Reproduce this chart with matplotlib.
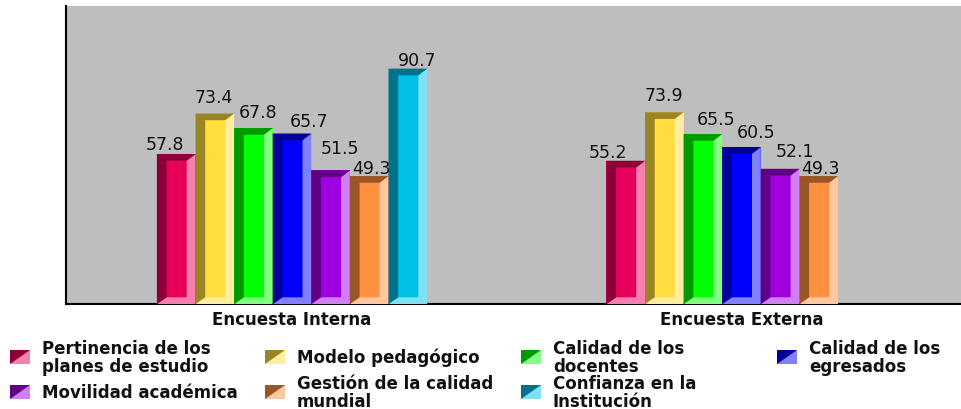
#!/usr/bin/env python3
import matplotlib
matplotlib.use('Agg')
import matplotlib.pyplot as plt
from matplotlib.patches import Polygon, Rectangle

plt.rcParams['font.family'] = ['DejaVu Sans']

# ── data ─────────────────────────────────────────────
groups = ['Encuesta Interna', 'Encuesta Externa']
series = ['Pertinencia de los\nplanes de estudio', 'Modelo pedagógico',
          'Calidad de los\ndocentes', 'Calidad de los\negresados',
          'Movilidad académica', 'Gestión de la calidad\nmundial',
          'Confianza en la\nInstitución']
interna = [57.8, 73.4, 67.8, 65.7, 51.5, 49.3, 90.7]
externa = [55.2, 73.9, 65.5, 60.5, 52.1, 49.3]

# (face, dark bevel, light bevel)
COLS = [('#E6005C', '#8A0037', '#F57FAE'),
        ('#FFDD40', '#998526', '#FFEE9F'),
        ('#00FF00', '#009900', '#80FF80'),
        ('#0000FF', '#000099', '#8080FF'),
        ('#A000E0', '#600086', '#D07FF0'),
        ('#FF9040', '#995626', '#FFC79F'),
        ('#00C0E6', '#00738A', '#80E0F3')]

# label nudges in pixels from the bar's top centre (the source chart scatters them)
OFF_INT = [(-11, 10), (-1, 17), (5, 16), (17, 13), (9, 22), (2, 8), (9, 9)]
OFF_EXT = [(-18, 9), (0, 17), (13, 15), (15, 15), (15, 18), (2, 8)]

BG = '#BEBEBE'
W, H = 961, 410
PX_X = 449.5             # px between group centres
PX_Y = 2.595             # px per value unit
BAR = 38.6 / PX_X        # bar width in x units
FS = 12

fig = plt.figure(figsize=(W / 100, H / 100), dpi=100, facecolor='white')
ax = fig.add_axes([66 / W, (H - 305) / H, (W - 66) / W, 298 / H], facecolor=BG)
ax.set_xlim(-226 / PX_X, 669 / PX_X)
ax.set_ylim(0, 298 / PX_Y)


def bevel_bar(x, v, cols):
    face, dark, light = cols
    bl, br = 9.7 / PX_X, 8.8 / PX_X
    bh = 6.7 / PX_Y
    x0, x1 = x - BAR / 2, x + BAR / 2
    ax.bar(x, v, BAR, color=face, linewidth=0, zorder=2)
    # light right + bottom, dark left + top, mitred at the corners
    ax.add_patch(Polygon([(x0, 0), (x1, 0), (x1, v), (x1 - br, v - bh),
                          (x1 - br, bh), (x0 + bl, bh)],
                         facecolor=light, edgecolor='none', zorder=3))
    ax.add_patch(Polygon([(x0, 0), (x0, v), (x1, v), (x1 - br, v - bh),
                          (x0 + bl, v - bh), (x0 + bl, bh)],
                         facecolor=dark, edgecolor='none', zorder=3))


for g, (vals, offs) in enumerate([(interna, OFF_INT), (externa, OFF_EXT)]):
    for i, v in enumerate(vals):
        x = g + (i - 3) * BAR
        bevel_bar(x, v, COLS[i])
        ax.annotate(f'{v:.1f}', (x, v), xytext=offs[i], textcoords='offset pixels',
                    ha='center', va='center', fontsize=12.5, color='#111111', zorder=5)

ax.set_xticks([0, 1], groups, fontsize=FS, fontweight='bold', color='#111111')
ax.tick_params(length=0, pad=4)
ax.set_yticks([])
for s in ('top', 'right'):
    ax.spines[s].set_visible(False)
ax.spines['left'].set_linewidth(1.5)
ax.spines['bottom'].set_linewidth(1.5)

# ── legend in pixel coordinates ──────────────────────
lg = fig.add_axes([0, 0, 1, 1], facecolor='none')
lg.set_xlim(0, W)
lg.set_ylim(H, 0)
lg.axis('off')
SW_X = [10, 265, 521, 777]
SW_Y = [351, 386]
for i, label in enumerate(series):
    col, row = i % 4, i // 4
    x, y = SW_X[col], SW_Y[row]
    dark, light = COLS[i][1], COLS[i][2]
    lg.add_patch(Rectangle((x, y), 20, 14, facecolor=light, edgecolor='none'))
    lg.add_patch(Polygon([(x, y), (x + 20, y), (x, y + 14)], facecolor=dark, edgecolor='none'))
    lg.text(x + 32, y + 7, label, ha='left', va='center', fontsize=FS, fontweight='bold',
            linespacing=1.05, color='#111111')

fig.savefig('out.png', dpi=100, facecolor='white')
